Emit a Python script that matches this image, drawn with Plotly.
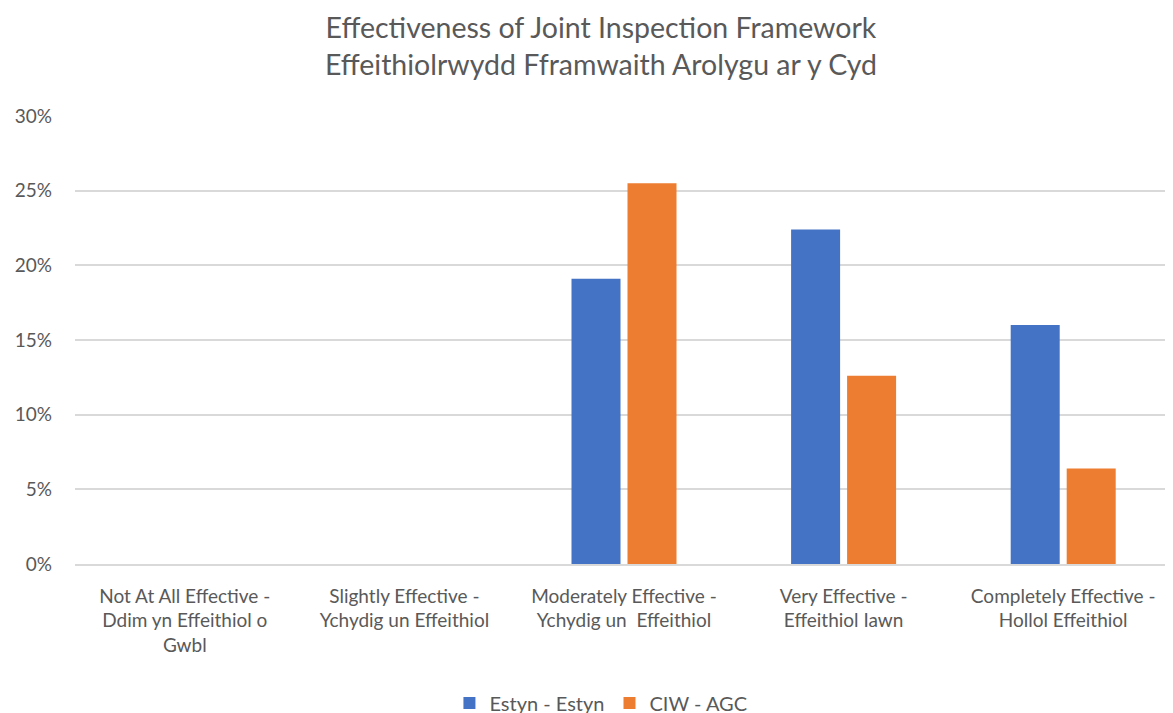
import plotly.graph_objects as go

categories = [
    "Not At All Effective -<br>Ddim yn Effeithiol o<br>Gwbl",
    "Slightly Effective -<br>Ychydig un Effeithiol",
    "Moderately Effective -<br>Ychydig un  Effeithiol",
    "Very Effective -<br>Effeithiol Iawn",
    "Completely Effective -<br>Hollol Effeithiol",
]
estyn_values = [0.0, 0.0, 0.191, 0.224, 0.160]
ciw_values = [0.0, 0.0, 0.255, 0.126, 0.064]
series_names = ["Estyn - Estyn", "CIW - AGC"]
y_ticks = [0, 0.05, 0.10, 0.15, 0.20, 0.25, 0.30]
y_tick_labels = ["0%", "5%", "10%", "15%", "20%", "25%", "30%"]

FONT = "Lato"
GREY = "#595959"

fig = go.Figure()
fig.add_trace(go.Bar(x=categories, y=estyn_values, name=series_names[0],
                     marker=dict(color="#4472C4", line=dict(width=0))))
fig.add_trace(go.Bar(x=categories, y=ciw_values, name=series_names[1],
                     marker=dict(color="#ED7D31", line=dict(width=0))))

# page body adds an 8px offset, so the figure is 1165x705 inside the 1173x713 window
fig.update_layout(
    width=1165, height=705,
    paper_bgcolor="white", plot_bgcolor="white",
    margin=dict(l=67, r=0, t=108, b=149, autoexpand=False),
    barmode="group", bargap=0.49, bargroupgap=0.125,
    font=dict(family=FONT, color=GREY, size=19),
    title=dict(
        text="Effectiveness of Joint Inspection Framework<br>Effeithiolrwydd Fframwaith Arolygu ar y Cyd",
        x=0.479, xanchor="center", xref="paper", y=0.958, yanchor="top", yref="container",
        font=dict(family=FONT, size=28.5, color=GREY),
    ),
    legend=dict(orientation="h", x=0.479, xanchor="center", y=-0.31, yanchor="middle",
                font=dict(size=20, color=GREY), itemwidth=30, traceorder="normal"),
    showlegend=True,
)
fig.update_yaxes(range=[0, 0.30], tickvals=y_ticks, ticktext=y_tick_labels,
                 showgrid=True, gridcolor="#D9D9D9", gridwidth=1.6, automargin=False,
                 zeroline=False, showline=False, ticks="", ticklabelstandoff=22,
                 tickfont=dict(size=19, color=GREY))
fig.update_xaxes(showgrid=False, showline=True, linecolor="#D9D9D9", linewidth=1.6,
                 automargin=False,
                 ticks="", tickangle=0, tickfont=dict(size=19, color=GREY),
                 ticklabelstandoff=14)

fig.write_html("out.html")
